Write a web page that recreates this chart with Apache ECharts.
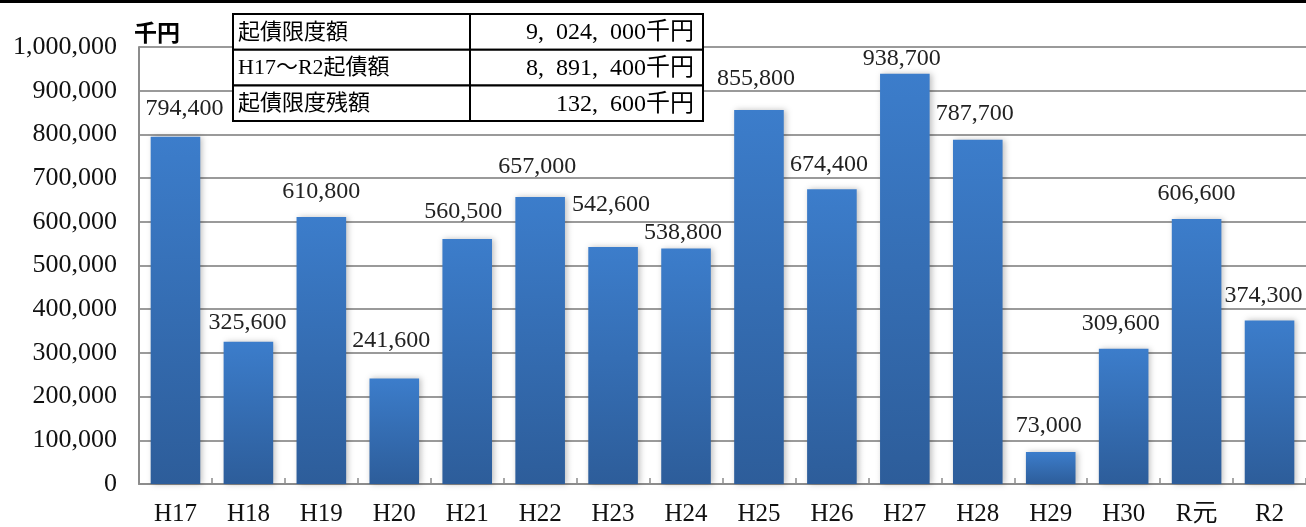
<!DOCTYPE html>
<html>
<head>
<meta charset="utf-8">
<script src="https://cdn.jsdelivr.net/npm/echarts@6/dist/echarts.min.js"></script>
<style>
  html, body { margin: 0; padding: 0; background: #fff; }
  #chart { width: 1306px; height: 527px; }
</style>
</head>
<body>
<div id="chart"></div>
<script>
// 起債額（年度別、単位：千円）
const categories = ['H17', 'H18', 'H19', 'H20', 'H21', 'H22', 'H23', 'H24',
                    'H25', 'H26', 'H27', 'H28', 'H29', 'H30', 'R元', 'R2'];
const amounts = [794400, 325600, 610800, 241600, 560500, 657000, 542600, 538800,
                 855800, 674400, 938700, 787700, 73000, 309600, 606600, 374300];

// 集計表
const summaryLabels = ['起債限度額', 'H17～R2起債額', '起債限度残額'];
const summaryValues = ['9,024,000千円', '8,891,400千円', '132,600千円'];

// hand-placed data labels: [dx, dy] in px
const labelNudge = {
  H17: [9, -3], H18: [-1, 6], H20: [-3, -13], H21: [-4, -2], H22: [-3, -5],
  H23: [-2, -17], H24: [-3, 9], H25: [-3, -6], H26: [-3, 0], H27: [-3, 10],
  H28: [-3, -1], H29: [-2, -1], H30: [-3, 0], R2: [-6, 0]
};

const serif = '"Liberation Serif", "Noto Sans CJK JP", serif';
const fmt = v => v.toLocaleString('en-US');

const chart = echarts.init(document.getElementById('chart'), null, { renderer: 'canvas' });

// summary table drawn as graphic elements
const tbl = { x: 233, y: 14, w: 470, rowH: 35.7, colX: 470 };
const tableGraphics = [];
summaryLabels.forEach((label, i) => {
  const y = tbl.y + i * tbl.rowH;
  tableGraphics.push({
    type: 'rect', z: 100,
    shape: { x: tbl.x, y: y, width: tbl.w, height: tbl.rowH },
    style: { fill: '#fff', stroke: '#000', lineWidth: 2 }
  });
  tableGraphics.push({
    type: 'line', z: 101,
    shape: { x1: tbl.colX, y1: y, x2: tbl.colX, y2: y + tbl.rowH },
    style: { stroke: '#000', lineWidth: 2 }
  });
  tableGraphics.push({
    type: 'text', z: 102, x: tbl.x + 5, y: y + tbl.rowH / 2 + 1,
    style: { text: label, font: '22px ' + serif, fill: '#000', verticalAlign: 'middle', align: 'left' }
  });
  // amounts: commas followed by a gap, as in the printed table
  tableGraphics.push({
    type: 'text', z: 102, x: tbl.x + tbl.w - 9, y: y + tbl.rowH / 2 + 1,
    style: {
      text: summaryValues[i].split(',').join('{c|,}'),
      font: '24px ' + serif, fill: '#000', verticalAlign: 'middle', align: 'right',
      rich: { c: { font: '24px ' + serif, fill: '#000', padding: [0, 12, 0, 0] } }
    }
  });
});

chart.setOption({
  animation: false,
  backgroundColor: '#fff',
  grid: { left: 139, right: 0, top: 47, bottom: 43, containLabel: false },
  xAxis: {
    type: 'category',
    data: categories,
    axisLine: { show: true, lineStyle: { color: '#8c8c8c', width: 2 } },
    axisTick: { show: true, length: 6, inside: true, lineStyle: { color: '#8c8c8c', width: 1.5 } },
    axisLabel: { color: '#111', fontFamily: serif, fontSize: 25, margin: 18 }
  },
  yAxis: {
    type: 'value',
    min: 0, max: 1000000, interval: 100000,
    axisLine: { show: true, lineStyle: { color: '#8c8c8c', width: 2 } },
    axisTick: { show: false },
    axisLabel: { color: '#111', fontFamily: serif, fontSize: 26, margin: 22, formatter: v => fmt(v) },
    splitLine: { show: true, lineStyle: { color: '#9a9a9a', width: 2 } }
  },
  series: [{
    type: 'bar',
    data: amounts.map((v, i) => {
      const n = labelNudge[categories[i]];
      return n ? { value: v, label: { offset: n } } : v;
    }),
    barWidth: '68%',
    itemStyle: {
      color: new echarts.graphic.LinearGradient(0, 0, 0, 1, [
        { offset: 0, color: '#3c7dcb' },
        { offset: 1, color: '#2d5d9a' }
      ]),
      shadowColor: 'rgba(0,0,0,0.25)',
      shadowBlur: 6,
      shadowOffsetX: 2,
      shadowOffsetY: 0
    },
    label: {
      show: true,
      position: 'top',
      distance: 13,
      color: '#222',
      fontFamily: serif,
      fontSize: 24,
      formatter: p => fmt(p.value)
    }
  }],
  graphic: [
    { type: 'rect', z: 100, shape: { x: 0, y: 0, width: 1306, height: 3 }, style: { fill: '#000' } },
    { type: 'text', z: 100, x: 134, y: 32,
      style: { text: '千円', font: 'bold 23px "Noto Sans CJK JP", sans-serif', fill: '#000', verticalAlign: 'middle' } }
  ].concat(tableGraphics)
});
</script>
</body>
</html>
